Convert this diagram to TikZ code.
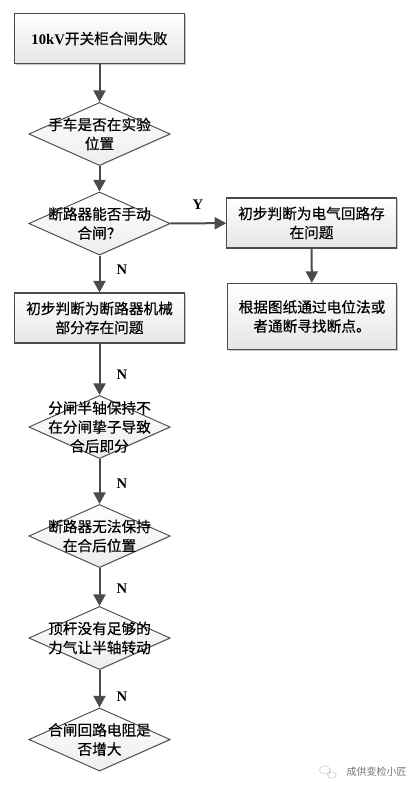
\documentclass[tikz,border=0pt]{standalone}
\usepackage{fontspec}
\setmainfont{Liberation Serif}
\newfontfamily\cjk[FakeBold=0.4]{Noto Sans CJK SC}
\newfontfamily\cjkthin{Noto Sans CJK SC}
\usetikzlibrary{shapes.geometric,arrows.meta,shadows,calc}
\definecolor{edgec}{RGB}{75,75,75}
\tikzset{
  x=0.75pt,y=-0.75pt,
  txt/.style={align=center,inner sep=0pt,text=black,font=\cjk\fontsize{11}{14.3}\selectfont},
  boxn/.style={txt,draw=edgec,line width=0.8pt,rectangle,minimum width=127pt,minimum height=37.5pt,top color=white,bottom color=black!10,
     drop shadow={shadow xshift=1pt,shadow yshift=-1pt,fill=black!35,opacity=.6}},
  dia/.style={draw=edgec,line width=0.7pt,diamond,inner sep=0pt,minimum width=106pt,minimum height=47.3pt,top color=white,bottom color=black!7,
     drop shadow={shadow xshift=.6pt,shadow yshift=-.6pt,fill=black!25,opacity=.5}},
  flow/.style={draw=edgec,line width=1.5pt,-{Triangle[length=8.7pt,width=9pt]}},
  lab/.style={font=\bfseries\fontsize{11}{12}\selectfont,text=black}
}
\begin{document}
\begin{tikzpicture}
\useasboundingbox (0,0) rectangle (415,792);
\fill[white] (0,0) rectangle (415,792);
\node[boxn] (a) at (99.5,38.5) {{\rmfamily\bfseries 10kV}开关柜合闸失败};
\node[dia] (b) at (99.5,134) {};
\node[dia] (c) at (99.5,223.5) {};
\node[boxn] (d) at (99.5,318) {初步判断为断路器机械\\部分存在问题};
\node[dia] (e) at (99.5,427) {};
\node[dia] (f) at (99.5,536) {};
\node[dia] (g) at (99.5,638) {};
\node[dia] (h) at (99.5,739.5) {};
\node[txt] (bt) at (b) {手车是否在实验\\位置};
\node[txt] (ct) at (c) {断路器能否手动\\合闸？};
\node[txt] (et) at (e) {分闸半轴保持不\\在分闸挚子导致\\合后即分};
\node[txt] (ft) at (f) {断路器无法保持\\在合后位置};
\node[txt] (gt) at (g) {顶杆没有足够的\\力气让半轴转动};
\node[txt] (ht) at (h) {合闸回路电阻是\\否增大};
\node[boxn] (r) at (311.5,223) {初步判断为电气回路存\\在问题};
\node[boxn,minimum height=49.5pt] (s) at (312,316.5) {根据图纸通过电位法或\\者通断寻找断点。};
\draw[flow] (a) -- (b);
\draw[flow] (b) -- (c);
\draw[flow] (c) -- (d);
\draw[flow] (d) -- (e);
\draw[flow] (e) -- (f);
\draw[flow] (f) -- (g);
\draw[flow] (g) -- (h);
\draw[flow] (c) -- (r);
\draw[flow] (r) -- (s);
\node[lab] (ly) at (198,205) {Y};
\node[lab] (l1) at (122,270) {N};
\node[lab] (l2) at (122,375) {N};
\node[lab] (l3) at (122,484) {N};
\node[lab] (l4) at (122,589) {N};
\node[lab] (l5) at (122,697) {N};
\node[font=\cjkthin\fontsize{7.5}{9}\selectfont,text=black!55,anchor=west] (w) at (342,772) {成供变检小匠};
\draw[black!30,line width=0.5pt,dash pattern=on 1.5pt off 1pt] (325,770) circle (4pt and 3pt);
\draw[black!30,line width=0.5pt,dash pattern=on 1.5pt off 1pt] (332,775) circle (3.2pt and 2.4pt);
\end{tikzpicture}
\end{document}
